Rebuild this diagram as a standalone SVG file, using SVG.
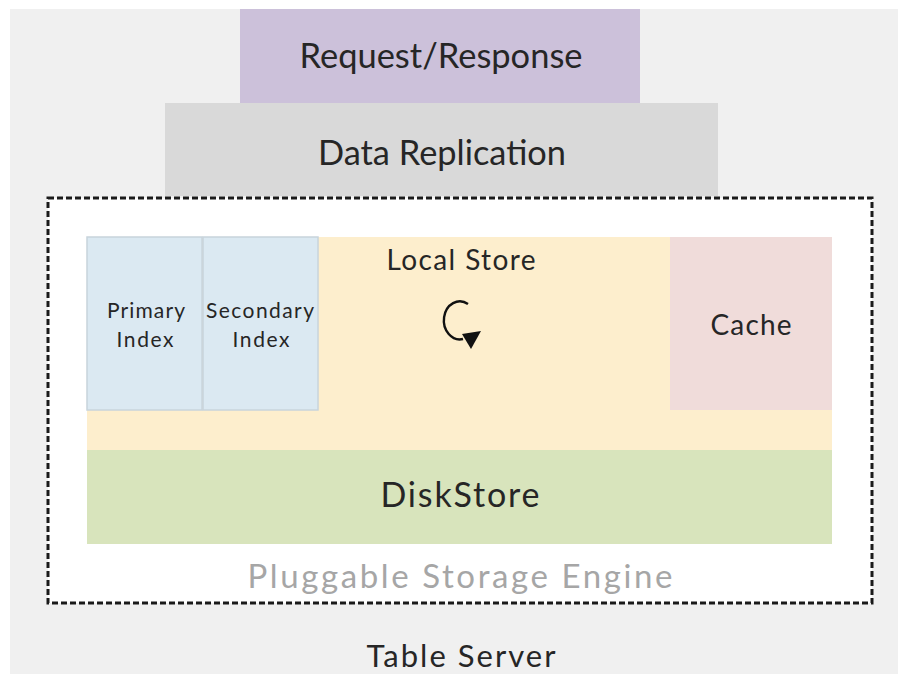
<svg xmlns="http://www.w3.org/2000/svg" width="898" height="674" viewBox="0 0 898 674">
<style>
text{font-family:Lato,"Open Sans","Liberation Sans",sans-serif;fill:#262626;text-anchor:middle}
.sm{font-size:21px}
</style>
<rect x="0" y="0" width="898" height="674" fill="#ffffff"/>
<rect x="10" y="9" width="888" height="665" fill="#f0f0f0"/>
<g id="request-response">
<rect x="240" y="9" width="400" height="94" fill="#ccc1da"/>
<text x="441" y="68" style="font-size:35px" textLength="283" lengthAdjust="spacingAndGlyphs">Request/Response</text>
</g>
<g id="data-replication">
<rect x="165" y="103" width="553" height="93" fill="#d9d9d9"/>
<text x="442" y="165" style="font-size:34px" textLength="248" lengthAdjust="spacingAndGlyphs">Data Replication</text>
</g>
<g id="table-server">
<rect x="48" y="198" width="824" height="405" fill="#ffffff" stroke="#1a1a1a" stroke-width="3" stroke-dasharray="6 3"/>
<text x="461" y="667" style="font-size:31px" textLength="189" lengthAdjust="spacing">Table Server</text>
</g>
<g id="pluggable-storage-engine">
<text x="460" y="588" style="font-size:33px;fill:#a6a6a6" textLength="425" lengthAdjust="spacing">Pluggable Storage Engine</text>
</g>
<g id="local-store">
<rect x="87" y="237" width="745" height="213" fill="#fdeecd"/>
<text x="461" y="270" style="font-size:28px" textLength="149" lengthAdjust="spacing">Local Store</text>
<path d="M468,304 A16,19 0 1 0 463,339" fill="none" stroke="#111" stroke-width="2.4"/>
<path d="M462,334 L481,331 L471,349 z" fill="#111"/>
</g>
<g id="primary-index">
<rect x="87" y="237" width="115" height="173" fill="#dbe9f2" stroke="#c8d4dc" stroke-width="1.5"/>
<text class="sm" x="146" y="318" textLength="78" lengthAdjust="spacing">Primary</text>
<text class="sm" x="145" y="347" textLength="57" lengthAdjust="spacing">Index</text>
</g>
<g id="secondary-index">
<rect x="203" y="237" width="115" height="173" fill="#dbe9f2" stroke="#c8d4dc" stroke-width="1.5"/>
<text class="sm" x="260" y="318" textLength="108" lengthAdjust="spacing">Secondary</text>
<text class="sm" x="261" y="347" textLength="57" lengthAdjust="spacing">Index</text>
</g>
<g id="cache">
<rect x="670" y="237" width="162" height="173" fill="#f0dcda"/>
<text x="751" y="335" style="font-size:28px" textLength="81" lengthAdjust="spacing">Cache</text>
</g>
<g id="diskstore">
<rect x="87" y="450" width="745" height="94" fill="#d8e4bc"/>
<text x="460" y="507" style="font-size:34px" textLength="159" lengthAdjust="spacing">DiskStore</text>
</g>
<g id="connectors"></g>
</svg>
